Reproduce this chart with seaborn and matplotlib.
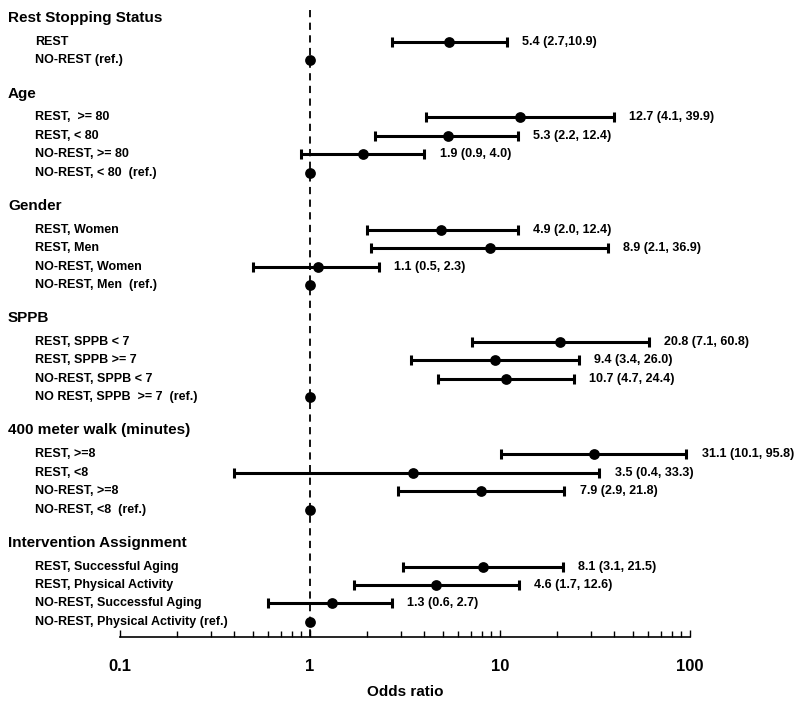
import numpy as np
import pandas as pd
import matplotlib
matplotlib.use('agg')
import matplotlib.pyplot as plt
import seaborn as sns
from matplotlib.ticker import LogLocator, FixedLocator, FixedFormatter

headers = ["Rest Stopping Status", "Age", "Gender", "SPPB",
           "400 meter walk (minutes)", "Intervention Assignment"]

row_labels = [
    ["REST", "NO-REST (ref.)"],
    ["REST,  >= 80", "REST, < 80", "NO-REST, >= 80", "NO-REST, < 80  (ref.)"],
    ["REST, Women", "REST, Men", "NO-REST, Women", "NO-REST, Men  (ref.)"],
    ["REST, SPPB < 7", "REST, SPPB >= 7", "NO-REST, SPPB < 7", "NO REST, SPPB  >= 7  (ref.)"],
    ["REST, >=8", "REST, <8", "NO-REST, >=8", "NO-REST, <8  (ref.)"],
    ["REST, Successful Aging", "REST, Physical Activity",
     "NO-REST, Successful Aging", "NO-REST, Physical Activity (ref.)"],
]

odds = [
    [5.4, 1.0],
    [12.7, 5.3, 1.9, 1.0],
    [4.9, 8.9, 1.1, 1.0],
    [20.8, 9.4, 10.7, 1.0],
    [31.1, 3.5, 7.9, 1.0],
    [8.1, 4.6, 1.3, 1.0],
]
ci_low = [
    [2.7, None],
    [4.1, 2.2, 0.9, None],
    [2.0, 2.1, 0.5, None],
    [7.1, 3.4, 4.7, None],
    [10.1, 0.4, 2.9, None],
    [3.1, 1.7, 0.6, None],
]
ci_high = [
    [10.9, None],
    [39.9, 12.4, 4.0, None],
    [12.4, 36.9, 2.3, None],
    [60.8, 26.0, 24.4, None],
    [95.8, 33.3, 21.8, None],
    [21.5, 12.6, 2.7, None],
]
ci_text = [
    ["5.4 (2.7,10.9)", ""],
    ["12.7 (4.1, 39.9)", "5.3 (2.2, 12.4)", "1.9 (0.9, 4.0)", ""],
    ["4.9 (2.0, 12.4)", "8.9 (2.1, 36.9)", "1.1 (0.5, 2.3)", ""],
    ["20.8 (7.1, 60.8)", "9.4 (3.4, 26.0)", "10.7 (4.7, 24.4)", ""],
    ["31.1 (10.1, 95.8)", "3.5 (0.4, 33.3)", "7.9 (2.9, 21.8)", ""],
    ["8.1 (3.1, 21.5)", "4.6 (1.7, 12.6)", "1.3 (0.6, 2.7)", ""],
]

# layout of rows (vertical positions in row units)
header_pos = []
rows = []
y = 0.0
for g, h in enumerate(headers):
    header_pos.append(y)
    y += 1.3
    for i, lab in enumerate(row_labels[g]):
        rows.append({"label": lab, "y": y, "OR": odds[g][i],
                     "lo": ci_low[g][i], "hi": ci_high[g][i], "txt": ci_text[g][i]})
        y += 1.0
    y += 0.8
df = pd.DataFrame(rows)

sns.set_style("white")
plt.rcParams['font.family'] = ['Liberation Sans', 'DejaVu Sans']
plt.rcParams['font.weight'] = 'bold'
plt.rcParams['text.color'] = 'black'
plt.rcParams['axes.labelcolor'] = 'black'
plt.rcParams['xtick.color'] = 'black'

fig = plt.figure(figsize=(8, 7.07), dpi=100)
ax = fig.add_axes([0.15, 0.099, 0.7125, 0.901])
ax.set_xscale('log')
ax.set_xlim(0.1, 100)
ax.set_ylim(33.62, -0.98)

# reference line at OR = 1
ax.vlines(1, -0.43, 33.62, colors='black', linestyles=(0, (4, 3)), linewidth=1.3, zorder=1)

ci = df.dropna(subset=["lo"])
ax.errorbar(ci["OR"], ci["y"], xerr=[ci["OR"] - ci["lo"], ci["hi"] - ci["OR"]],
            fmt='none', ecolor='black', elinewidth=2.2, capsize=3.5, capthick=2.2, zorder=2)
sns.scatterplot(data=df, x="OR", y="y", ax=ax, color='black', s=60,
                edgecolor='black', linewidth=0, zorder=3, legend=False)

for _, r in ci.iterrows():
    ax.annotate(r["txt"], (r["hi"], r["y"]), xytext=(11, 0), textcoords='offset points',
                ha='left', va='center', fontsize=9, fontweight='bold', color='black')

tr = ax.get_yaxis_transform()
for h, yy in zip(headers, header_pos):
    ax.text(-0.1965, yy, h, transform=tr, ha='left', va='center',
            fontsize=11, fontweight='bold', color='black', clip_on=False)
for _, r in df.iterrows():
    ax.text(-0.149, r["y"], r["label"], transform=tr, ha='left', va='center',
            fontsize=9, fontweight='bold', color='black', clip_on=False)

for s in ['left', 'top', 'right']:
    ax.spines[s].set_visible(False)
ax.spines['bottom'].set_linewidth(1.2)
ax.spines['bottom'].set_color('black')
ax.set_yticks([])
ax.set_ylabel('')
ax.xaxis.set_major_locator(FixedLocator([0.1, 1, 10, 100]))
ax.xaxis.set_major_formatter(FixedFormatter(['0.1', '1', '10', '100']))
ax.xaxis.set_minor_locator(LogLocator(base=10, subs=np.arange(2, 10)))
ax.tick_params(axis='x', which='major', direction='in', length=5, width=1, pad=16,
               labelsize=12, bottom=True, colors='black')
ax.tick_params(axis='x', which='minor', direction='in', length=4, width=1, bottom=True,
               colors='black')
for t in ax.get_xticklabels():
    t.set_fontweight('bold')
ax.set_xlabel('Odds ratio', fontsize=11, fontweight='bold', labelpad=8)

fig.savefig('out.png', dpi=100)
